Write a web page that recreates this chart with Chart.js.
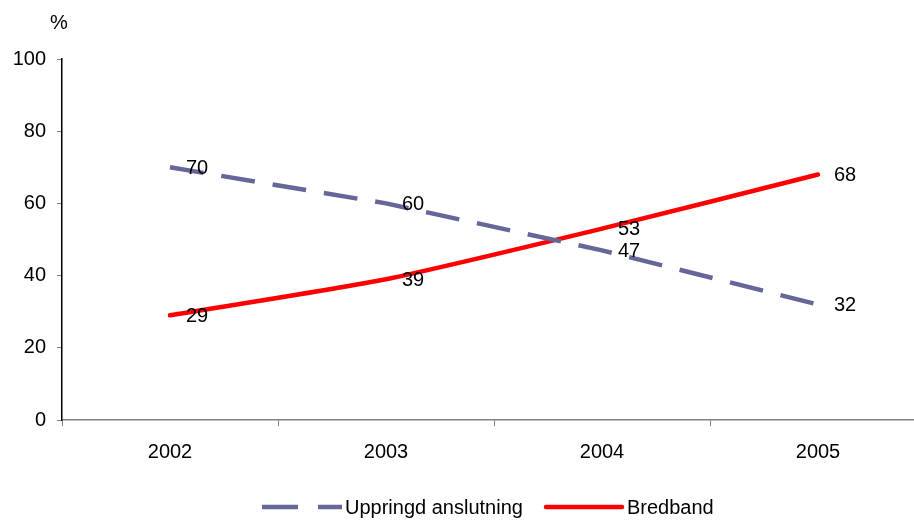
<!DOCTYPE html>
<html>
<head>
<meta charset="utf-8">
<script src="https://cdn.jsdelivr.net/npm/chart.js@4.4.0/dist/chart.umd.min.js"></script>
<style>
    html, body { margin: 0; padding: 0; background: #fff; overflow: hidden; }
    #wrap { width: 940px; height: 522px; position: relative; }
</style>
</head>
<body>
<div id="wrap"><canvas id="lineChart"></canvas></div>
<script>
// Datos del gráfico
const years = ['2002', '2003', '2004', '2005'];
const uppringd = [70, 60, 47, 32];
const bredband = [29, 39, 53, 68];
const yTicks = [0, 20, 40, 60, 80, 100];
const seriesNames = ['Uppringd anslutning', 'Bredband'];

const FONT = '"Liberation Sans", Arial, sans-serif';
const dashColor = '#666699';
const redColor = '#FF0000';

// Etiquetas de valores a la derecha de cada punto
const valueLabels = {
    id: 'valueLabels',
    afterDatasetsDraw(chart) {
        const ctx = chart.ctx;
        ctx.save();
        ctx.font = '20px ' + FONT;
        ctx.fillStyle = '#000';
        ctx.textAlign = 'left';
        ctx.textBaseline = 'middle';
        chart.data.datasets.forEach((ds, i) => {
            chart.getDatasetMeta(i).data.forEach((pt, j) => {
                ctx.fillText(String(ds.data[j]), pt.x + 16, pt.y + 1);
            });
        });
        ctx.restore();
    }
};

// Leyenda y símbolo "%" dibujados a mano
const customLegend = {
    id: 'customLegend',
    afterDraw(chart) {
        const ctx = chart.ctx;
        ctx.save();
        ctx.font = '20px ' + FONT;
        ctx.fillStyle = '#000';
        ctx.textBaseline = 'middle';
        ctx.textAlign = 'center';
        ctx.fillText('%', 59, 23);

        const y = 507;
        ctx.textAlign = 'left';
        ctx.lineWidth = 4.5;
        ctx.strokeStyle = dashColor;
        ctx.setLineDash([36, 20]);
        ctx.beginPath();
        ctx.moveTo(262, y);
        ctx.lineTo(342, y);
        ctx.stroke();
        ctx.setLineDash([]);
        ctx.fillText(seriesNames[0], 345, y + 1);

        ctx.strokeStyle = redColor;
        ctx.lineCap = 'round';
        ctx.beginPath();
        ctx.moveTo(546, y);
        ctx.lineTo(622, y);
        ctx.stroke();
        ctx.fillText(seriesNames[1], 627, y + 1);
        ctx.restore();
    }
};

const ctx = document.getElementById('lineChart').getContext('2d');
new Chart(ctx, {
    type: 'line',
    data: {
        labels: years,
        datasets: [
            {
                label: seriesNames[0],
                data: uppringd,
                borderColor: dashColor,
                borderWidth: 4.5,
                borderDash: [34, 18],
                pointRadius: 0,
                fill: false,
                tension: 0
            },
            {
                label: seriesNames[1],
                data: bredband,
                borderColor: redColor,
                borderWidth: 4.5,
                borderCapStyle: 'round',
                pointRadius: 0,
                fill: false,
                tension: 0.2
            }
        ]
    },
    options: {
        responsive: true,
        maintainAspectRatio: false,
        animation: false,
        layout: { padding: { top: 59, right: 14, left: 0, bottom: 0 } },
        plugins: {
            legend: { display: false },
            tooltip: { enabled: false }
        },
        scales: {
            x: {
                offset: true,
                grid: {
                    offset: true,
                    drawOnChartArea: false,
                    drawTicks: true,
                    tickLength: 6,
                    color: '#808080'
                },
                border: { color: '#808080', width: 1.5 },
                ticks: {
                    font: { size: 20, family: FONT },
                    color: '#000',
                    padding: 14,
                    maxRotation: 0
                },
                afterFit(axis) { axis.height = 102; }
            },
            y: {
                min: 0,
                max: 100,
                afterBuildTicks(axis) {
                    axis.ticks = yTicks.map(v => ({ value: v }));
                },
                grid: {
                    drawOnChartArea: false,
                    drawTicks: true,
                    tickLength: 5,
                    color: '#808080'
                },
                border: { color: '#000', width: 1.5 },
                ticks: {
                    font: { size: 20, family: FONT },
                    color: '#000',
                    padding: 11
                },
                afterFit(axis) { axis.width = 62; }
            }
        }
    },
    plugins: [valueLabels, customLegend]
});
</script>
</body>
</html>
